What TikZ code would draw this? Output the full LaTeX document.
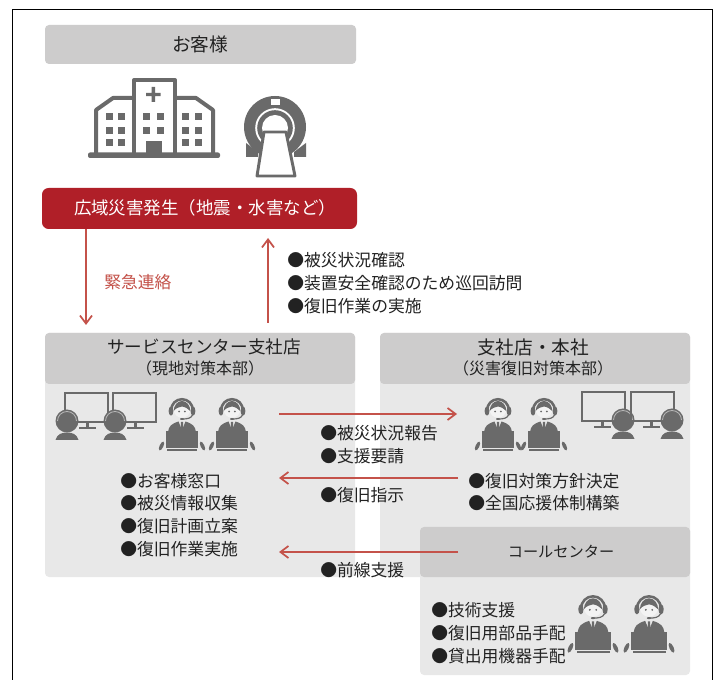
\documentclass[tikz,border=0pt]{standalone}
\usepackage{fontspec}
\setmainfont{Noto Sans CJK JP}
\usetikzlibrary{arrows.meta}
\definecolor{panelgrey}{HTML}{E8E8E8}
\definecolor{headgrey}{HTML}{CDCCCC}
\definecolor{icongrey}{HTML}{6A6A6A}
\definecolor{boxred}{HTML}{B01F28}
\definecolor{arrowred}{HTML}{C4524A}
\definecolor{inkblack}{HTML}{222222}
\tikzset{
  label/.style={font=\fontsize{12.6pt}{14pt}\selectfont,text=inkblack,inner sep=0pt},
  big/.style={font=\fontsize{13.2pt}{15pt}\selectfont,text=inkblack,inner sep=0pt},
  small/.style={font=\fontsize{12pt}{14pt}\selectfont,text=inkblack,inner sep=0pt},
  cclabel/.style={font=\fontsize{11.4pt}{13pt}\selectfont,text=inkblack,inner sep=0pt},
  item/.style={label,anchor=west},
  flow/.style={draw=arrowred,line width=1.4pt,-{Straight Barb[length=6pt,width=9pt,line width=1.3pt]}},
  pics/agent/.style={code={
    % headset
    \draw[icongrey,line width=1.9pt] (-10.8,2) arc (180:360:10.8);
    \fill[icongrey] (-11,3) ellipse (2.4 and 4.6) (11,3) ellipse (2.4 and 4.6);
    % face and hair
    \fill[white!92!icongrey] (0,1.5) circle (8.3);
    \fill[icongrey] (-8.3,3) arc (180:360:8.3 and 10) .. controls (6,1) and (4,-1) .. (0,-1.5) .. controls (-3,-1) and (-6,0) .. (-8.3,3) -- cycle;
    \fill[icongrey] (-2.9,3.5) circle (.95) (2.9,3.5) circle (.95);
    % microphone
    \draw[icongrey,line width=.9pt] (10.5,7) .. controls (9,10.5) and (5,11) .. (0,11);
    \fill[icongrey] (0,11) ellipse (2 and 1);
    % body
    \fill[icongrey] (-14,24) .. controls (-13,18) and (-11,16) .. (-3.5,13.5) -- (0,22) -- (3.5,13.5) .. controls (11,16) and (13,18) .. (14,24) -- cycle;
    \fill[icongrey] (-1,14) -- (1,14) -- (1.3,22) -- (-1.3,22) -- cycle;
    % laptop
    \fill[icongrey] (-16,23.5) rectangle (16,40);
    \fill[icongrey] (-15,41.3) rectangle (15,43);
    % hands
    \fill[icongrey,rotate around={-25:(-20.5,38)}] (-20.5,38) ellipse (1.9 and 4.8);
    \fill[icongrey,rotate around={25:(20.5,38)}] (20.5,38) ellipse (1.9 and 4.8);
  }},
  pics/operator/.style={code={
    % monitor
    \draw[icongrey,line width=1.6pt] (-2,-30) rectangle (41,-1);
    \fill[icongrey] (19,-1) rectangle (22,5);
    \fill[icongrey] (12,4.5) rectangle (29,6.2);
    % person
    \fill[icongrey] (0,-2) circle (11.5);
    \draw[panelgrey!60!icongrey,line width=.6pt] (-9.5,-2) arc (180:360:9.5);
    \fill[icongrey] (-11.5,17) .. controls (-10,11) and (-5,9.5) .. (0,9.5) .. controls (5,9.5) and (10,11) .. (11.5,17) -- cycle;
  }}
}
\begin{document}
\begin{tikzpicture}[x=0.75pt,y=-0.75pt]
\useasboundingbox (0,0) rectangle (714,680);
\fill[white] (0,0) rectangle (714,680);
\draw[black,line width=.6pt] (12,680) -- (12,9.5) -- (712.5,9.5) -- (712.5,680);

% customer
\fill[headgrey,rounded corners=3pt] (45,25) rectangle (356,64);
\node[font=\fontsize{14pt}{16pt}\selectfont,text=inkblack,inner sep=0pt] (customer) at (200,44.5) {お客様};

% hospital
\begin{scope}[icongrey]
 \fill[rounded corners=1.5pt] (88,152.5) rectangle (220,158);
 \draw[line width=3pt,line join=round] (96,155) -- (96,110) -- (113,98) -- (133,98);
 \draw[line width=3pt,line join=round] (175,98) -- (196,98) -- (213,110) -- (213,155);
 \draw[line width=3pt,line join=round] (134,155) -- (134,80) -- (175,80) -- (175,155);
 \fill (151.5,87) rectangle (155,102) (146,92.8) rectangle (160.5,96.2);
 \fill (146,141) rectangle (162,155);
 \foreach \wx in {106,118,182,195}{
  \foreach \wy in {113,127,139}{
    \fill (\wx,\wy) rectangle +(7,7.5);
 }}
 \foreach \wx in {143,157}{
  \foreach \wy in {113,127}{
    \fill (\wx,\wy) rectangle +(7,7.5);
 }}
 % scanner
 \fill (246,143) -- (258,152) -- (258,157) -- (246,157) -- cycle;
 \fill (306,143) -- (294,152) -- (294,157) -- (306,157) -- cycle;
 \fill (275,127) circle (31);
 \fill[white] (275,128) circle (19.8);
 \fill (275,128) circle (17.8);
 \fill[white] (275,128) circle (13);
 \fill[white] (271,99) rectangle (280,105);
 \fill[white] (264,128) rectangle (286,140);
 \draw[line width=2.2pt,fill=white,line join=round] (264,132) -- (286,132) -- (295,176) -- (257,176) -- cycle;
\end{scope}

% red box
\fill[boxred,rounded corners=5pt] (42,188) rectangle (357,229);
\node[font=\fontsize{13.1pt}{15pt}\selectfont,text=white,inner sep=0pt] (alarm) at (205,208) {広域災害発生（地震・水害など）};

% panels
\fill[panelgrey,rounded corners=3pt] (45,333) rectangle (355,577);
\fill[panelgrey,rounded corners=3pt] (380,333) rectangle (690,577);
\fill[panelgrey,rounded corners=3pt] (420,527) rectangle (690,675);
\fill[headgrey,rounded corners=3pt] (45,333) rectangle (355,384);
\fill[headgrey,rounded corners=3pt] (380,333) rectangle (690,384);
\fill[headgrey,rounded corners=3pt] (420,527) rectangle (690,577);

\node[big] (svc) at (204,347) {サービスセンター支社店};
\node[small] (svcsub) at (200,368) {（現地対策本部）};
\node[big,font=\fontsize{14pt}{16pt}\selectfont] (hq) at (533,347) {支社店・本社};
\node[small] (hqsub) at (533,368) {（災害復旧対策本部）};
\node[cclabel] (cc) at (561,552) {コールセンター};

% free ends of connectors
\coordinate (a1s) at (86,229); \coordinate (a1e) at (86,325);
\coordinate (a2s) at (268,323); \coordinate (a2e) at (268,238);
\coordinate (a3s) at (279,414); \coordinate (a3e) at (457,414);
\coordinate (a4s) at (458,478); \coordinate (a4e) at (279,478);
\coordinate (a5s) at (458,552); \coordinate (a5e) at (279,552);
\draw[flow] (a1s) -- (a1e);
\draw[flow] (a2s) -- (a2e);
\draw[flow] (a3s) -- (a3e);
\draw[flow] (a4s) -- (a4e);
\draw[flow] (a5s) -- (a5e);

\node[label,text=arrowred,anchor=west] (urgent) at (104,282) {緊急連絡};
\node[item] (t1) at (287,260) {●被災状況確認};
\node[item] (t2) at (287,283) {●装置安全確認のため巡回訪問};
\node[item] (t3) at (287,306) {●復旧作業の実施};

\node[item] (s1) at (120,481) {●お客様窓口};
\node[item] (s2) at (120,503.5) {●被災情報収集};
\node[item] (s3) at (120,526) {●復旧計画立案};
\node[item] (s4) at (120,549) {●復旧作業実施};

\node[item] (m1) at (320,433) {●被災状況報告};
\node[item] (m2) at (320,456) {●支援要請};
\node[item] (m3) at (320,495) {●復旧指示};
\node[item] (m4) at (320,570) {●前線支援};

\node[item] (h1) at (468,481) {●復旧対策方針決定};
\node[item] (h2) at (468,503) {●全国応援体制構築};

\node[item] (c1) at (431,610) {●技術支援};
\node[item] (c2) at (431,633) {●復旧用部品手配};
\node[item] (c3) at (431,656) {●貸出用機器手配};

% icons
\pic at (67,423) {operator};
\pic at (115,423) {operator};
\pic at (182,408) {agent};
\pic at (232,408) {agent};
\pic at (498,408) {agent};
\pic at (544,408) {agent};
\pic[xscale=-1] at (623,422) {operator};
\pic[xscale=-1] at (672,422) {operator};
\pic[scale=1.1] at (593,606) {agent};
\pic[scale=1.1] at (649,606) {agent};
\end{tikzpicture}
\end{document}
